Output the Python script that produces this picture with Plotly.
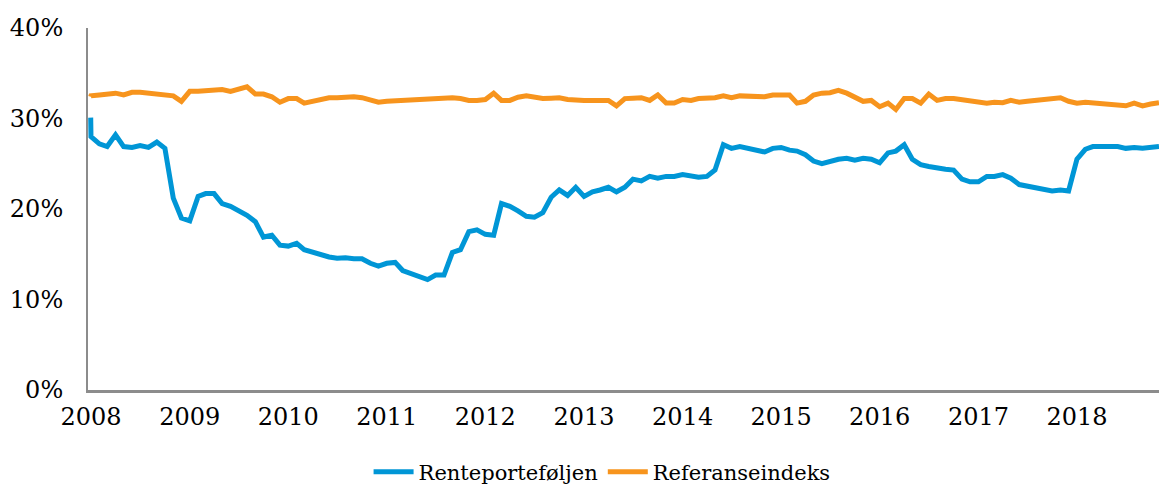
import pandas as pd
import plotly.graph_objects as go

# Year-end 2007 opening value, then monthly observations Jan 2008 - Nov 2018
start_date = "2007-12-31"
months = pd.date_range("2008-01-01", "2018-11-01", freq="MS")
dates = [pd.Timestamp(start_date)] + list(months)

rente_start = 30.1
rente = [
    28.0, 27.2, 26.9, 28.2, 26.9, 26.8, 27.0, 26.8, 27.4, 26.7, 21.2, 19.0,   # 2008
    18.7, 21.4, 21.7, 21.7, 20.6, 20.3, 19.8, 19.3, 18.6, 16.9, 17.1, 16.0,   # 2009
    15.9, 16.2, 15.5, 15.2, 14.9, 14.7, 14.55, 14.6, 14.5, 14.5, 14.0, 13.7,  # 2010
    14.0, 14.1, 13.2, 12.9, 12.5, 12.2, 12.7, 12.7, 15.2, 15.5, 17.5, 17.7,   # 2011
    17.2, 17.1, 20.6, 20.3, 19.8, 19.2, 19.1, 19.6, 21.3, 22.1, 21.5, 22.4,   # 2012
    21.4, 21.9, 22.1, 22.4, 21.9, 22.4, 23.3, 23.1, 23.6, 23.4, 23.6, 23.6,   # 2013
    23.8, 23.7, 23.5, 23.6, 24.3, 27.1, 26.7, 26.9, 26.7, 26.5, 26.3, 26.7,   # 2014
    26.8, 26.5, 26.4, 26.0, 25.3, 25.0, 25.3, 25.5, 25.6, 25.4, 25.6, 25.5,   # 2015
    25.1, 26.2, 26.4, 27.1, 25.5, 24.9, 24.7, 24.5, 24.4, 24.3, 23.3, 23.0,   # 2016
    23.0, 23.6, 23.6, 23.8, 23.4, 22.7, 22.5, 22.3, 22.1, 22.0, 22.1, 22.0,   # 2017
    25.5, 26.6, 26.9, 26.9, 27.0, 26.9, 26.7, 26.8, 26.7, 26.8, 26.9,         # 2018
]

ref_start = 32.4
referanse = [
    32.5, 32.6, 32.7, 32.8, 32.6, 32.9, 32.9, 32.8, 32.7, 32.6, 32.5, 31.9,   # 2008
    33.0, 33.0, 33.1, 33.2, 33.2, 33.0, 33.3, 33.5, 32.7, 32.7, 32.4, 31.8,   # 2009
    32.2, 32.2, 31.7, 31.9, 32.1, 32.3, 32.3, 32.4, 32.4, 32.3, 32.0, 31.8,   # 2010
    31.9, 31.95, 32.0, 32.05, 32.1, 32.2, 32.25, 32.3, 32.3, 32.2, 32.0, 32.0,  # 2011
    32.1, 32.8, 32.0, 32.0, 32.35, 32.5, 32.35, 32.2, 32.25, 32.3, 32.1, 32.0,  # 2012
    32.0, 32.0, 32.0, 32.0, 31.4, 32.2, 32.25, 32.3, 32.0, 32.6, 31.7, 31.7,  # 2013
    32.1, 32.0, 32.2, 32.25, 32.3, 32.5, 32.3, 32.5, 32.5, 32.45, 32.4, 32.6,  # 2014
    32.6, 32.6, 31.7, 31.9, 32.6, 32.8, 32.85, 33.1, 32.8, 32.3, 31.9, 32.0,  # 2015
    31.3, 31.7, 31.0, 32.2, 32.2, 31.7, 32.7, 32.0, 32.2, 32.2, 32.1, 32.0,   # 2016
    31.85, 31.7, 31.8, 31.75, 32.0, 31.8, 31.9, 32.0, 32.1, 32.15, 32.3, 31.9,  # 2017
    31.7, 31.8, 31.7, 31.6, 31.6, 31.5, 31.4, 31.7, 31.4, 31.6, 31.75,        # 2018
]

series_names = ["Renteporteføljen", "Referanseindeks"]
colors = ["#0096D6", "#F7941D"]

y_ticks = [0, 10, 20, 30, 40]
y_labels = [f"{v}%" for v in y_ticks]
year_ticks = [f"{y}-01-01" for y in range(2008, 2019)]
year_labels = [str(y) for y in range(2008, 2019)]

FONT = "DejaVu Serif"

fig = go.Figure()
fig.add_trace(go.Scatter(
    x=dates, y=[rente_start] + rente, mode="lines", name=series_names[0],
    line=dict(color=colors[0], width=5),
))
fig.add_trace(go.Scatter(
    x=dates, y=[ref_start] + referanse, mode="lines", name=series_names[1],
    line=dict(color=colors[1], width=5),
))

fig.update_layout(
    width=1159, height=484,
    margin=dict(l=88, r=0, t=28, b=94, autoexpand=False),
    paper_bgcolor="white", plot_bgcolor="white",
    font=dict(family=FONT, color="black", size=22),
    showlegend=True,
    legend=dict(
        orientation="h", x=0.48, xanchor="center", y=-0.17, yanchor="top",
        font=dict(family=FONT, size=21, color="black"),
        itemwidth=40,
    ),
    xaxis=dict(
        type="date", automargin=False,
        range=["2007-12-21", "2018-11-01"],
        tickvals=year_ticks, ticktext=year_labels,
        showgrid=False, zeroline=False,
        showline=True, linecolor="#8c8c8c", linewidth=2.5,
        ticks="", tickfont=dict(family=FONT, size=24, color="black"),
        ticklabelstandoff=3,
    ),
    yaxis=dict(
        range=[0, 40], automargin=False,
        tickvals=y_ticks, ticktext=y_labels,
        showgrid=False, zeroline=False,
        showline=True, linecolor="#8c8c8c", linewidth=2,
        ticks="", tickfont=dict(family=FONT, size=24, color="black"),
        ticklabelstandoff=18,
    ),
)

fig.write_html(
    "out.html",
    config={"displayModeBar": False},
    post_script="document.body.style.margin='0';document.body.style.overflow='hidden';",
)
